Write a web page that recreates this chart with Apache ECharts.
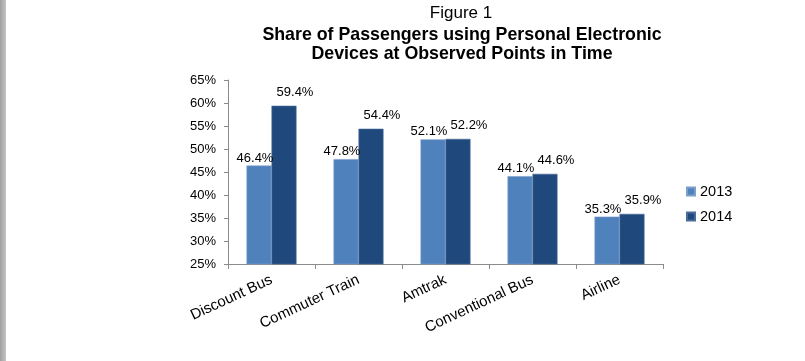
<!DOCTYPE html>
<html>
<head>
<meta charset="utf-8">
<script src="https://cdn.jsdelivr.net/npm/echarts@6/dist/echarts.min.js"></script>
<style>
html,body{margin:0;padding:0;background:#fff;}
#wrap{position:relative;width:805px;height:361px;}
#strip{position:absolute;left:0;top:0;width:6px;height:361px;background:linear-gradient(to right,#a0a0a0,#c4c4c4);z-index:2;}
#chart{position:absolute;left:0;top:0;width:805px;height:361px;}
</style>
</head>
<body>
<div id="wrap"><div id="strip"></div><div id="chart"></div></div>
<script>
const categories = ['Discount Bus', 'Commuter Train', 'Amtrak', 'Conventional Bus', 'Airline'];
const seriesNames = ['2013', '2014'];
const values2013 = [46.4, 47.8, 52.1, 44.1, 35.3];
const values2014 = [59.4, 54.4, 52.2, 44.6, 35.9];
const yTicks = { min: 25, max: 65, interval: 5 };

const font = 'Liberation Sans, Arial, sans-serif';
const chart = echarts.init(document.getElementById('chart'));
chart.setOption({
  animation: false,
  textStyle: { fontFamily: font },
  title: [
    { text: 'Figure 1', left: 456, textAlign: 'center', top: 0,
      textStyle: { fontFamily: font, fontSize: 17, fontWeight: 'normal', color: '#000' } },
    { text: 'Share of Passengers using Personal Electronic\nDevices at Observed Points in Time',
      left: 457, textAlign: 'center', top: 21,
      textStyle: { fontFamily: font, fontSize: 17.8, fontWeight: 'bold', color: '#000', lineHeight: 18.5 } }
  ],
  legend: {
    orient: 'vertical', left: 681, top: 179,
    itemWidth: 8, itemHeight: 8, itemGap: 10, itemTextGap: 4,
    icon: 'rect',
    textStyle: { fontFamily: font, fontSize: 14.5, color: '#000' },
    data: seriesNames
  },
  grid: { left: 228, right: 142, top: 80, bottom: 97 },
  xAxis: {
    type: 'category', data: categories,
    axisLine: { lineStyle: { color: '#8c8c8c', width: 1 } },
    axisTick: { show: true, length: 5, lineStyle: { color: '#8c8c8c' } },
    axisLabel: { rotate: 25, margin: 15, fontSize: 15, color: '#000', fontFamily: font, interval: 0 }
  },
  yAxis: {
    type: 'value', min: yTicks.min, max: yTicks.max, interval: yTicks.interval,
    splitLine: { show: false },
    axisLine: { show: true, lineStyle: { color: '#8c8c8c', width: 1 } },
    axisTick: { show: true, length: 4, lineStyle: { color: '#8c8c8c' } },
    axisLabel: { formatter: '{value}%', fontSize: 13, color: '#000', margin: 12, fontFamily: font }
  },
  series: [
    { name: seriesNames[0], type: 'bar', data: values2013, barWidth: 25, barGap: '0%',
      itemStyle: { color: '#4F81BD', borderColor: '#7D9FCC', borderWidth: 0.6 },
      label: { show: true, position: 'top', distance: 1, offset: [-4, 0],
        formatter: p => p.value.toFixed(1) + '%', fontSize: 13, color: '#000', fontFamily: font } },
    { name: seriesNames[1], type: 'bar', data: values2014, barWidth: 25, barGap: '0%',
      itemStyle: { color: '#1F497D', borderColor: '#4A6C99', borderWidth: 0.6 },
      label: { show: true, position: 'top', distance: 7, offset: [11, 0],
        formatter: p => p.value.toFixed(1) + '%', fontSize: 13, color: '#000', fontFamily: font } }
  ]
});
</script>
</body>
</html>
